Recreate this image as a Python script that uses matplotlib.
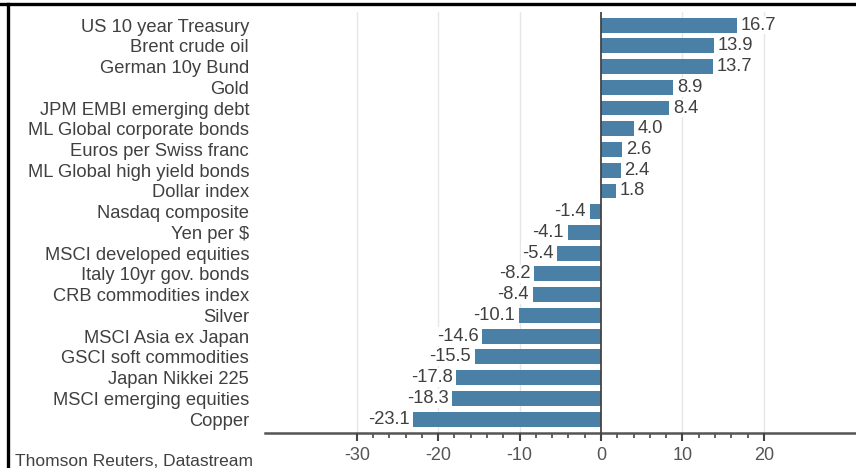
import matplotlib
matplotlib.use("Agg")
import matplotlib.pyplot as plt
import matplotlib.transforms as mtransforms
from matplotlib.lines import Line2D

categories = ["US 10 year Treasury", "Brent crude oil", "German 10y Bund", "Gold",
              "JPM EMBI emerging debt", "ML Global corporate bonds", "Euros per Swiss franc",
              "ML Global high yield bonds", "Dollar index", "Nasdaq composite", "Yen per $",
              "MSCI developed equities", "Italy 10yr gov. bonds", "CRB commodities index",
              "Silver", "MSCI Asia ex Japan", "GSCI soft commodities", "Japan Nikkei 225",
              "MSCI emerging equities", "Copper"]
values = [16.7, 13.9, 13.7, 8.9, 8.4, 4.0, 2.6, 2.4, 1.8, -1.4, -4.1, -5.4, -8.2, -8.4,
          -10.1, -14.6, -15.5, -17.8, -18.3, -23.1]
xticks = [-30, -20, -10, 0, 10, 20]
source = "Thomson Reuters, Datastream"

plt.rcParams['font.family'] = ['Liberation Sans', 'DejaVu Sans']
W, H = 856, 468
fig = plt.figure(figsize=(W / 100, H / 100), dpi=100)
fig.patch.set_facecolor('white')

left_px, right_px, top_px, bot_px = 265, 856, 12, 433
ax = fig.add_axes([left_px / W, 1 - bot_px / H, (right_px - left_px) / W, (bot_px - top_px) / H])

bar_color = '#4a7fa6'
text_color = '#404040'
ypos = list(range(len(categories)))
ax.barh(ypos, values, height=0.72, color=bar_color, zorder=3)

px_per_unit = 8.14
ax.set_xlim((left_px - 601) / px_per_unit, (right_px - 601) / px_per_unit)
ax.set_ylim(19.67, -0.63)

for y, v in zip(ypos, values):
    off = 0.45 if v >= 0 else -0.45
    ax.text(v + off, y, f"{v:.1f}", ha='left' if v >= 0 else 'right', va='center',
            fontsize=13.2, color=text_color, zorder=4,
            bbox=dict(boxstyle='square,pad=0.05', fc='white', ec='none'))

ax.set_yticks(ypos)
ax.set_yticklabels(categories, fontsize=13.2, color=text_color)
ax.tick_params(axis='y', length=0, pad=11.5)

ax.set_xticks(xticks)
ax.set_xticklabels([str(t) for t in xticks], fontsize=13, color='#555555')
ax.tick_params(axis='x', which='major', length=0, pad=10)

# tick marks below the axis line, drawn as short vertical segments
minor_ticks = [t for t in range(-30, 21, 2) if t % 10 != 0]
trans = mtransforms.blended_transform_factory(ax.transData, ax.transAxes)
axes_h_px = bot_px - top_px
ax.vlines(xticks, -8 / axes_h_px, 0, transform=trans, colors='#444444',
          linewidth=1.5, clip_on=False, zorder=6)
ax.vlines(minor_ticks, -5 / axes_h_px, 0, transform=trans, colors='#555555',
          linewidth=1.3, clip_on=False, zorder=6)

for t in xticks:
    if t != 0:
        ax.axvline(t, color='#e6e6e6', lw=1.0, zorder=1)
ax.axvline(0, color='#444444', lw=1.3, zorder=3.5)

for s in ['top', 'right', 'left']:
    ax.spines[s].set_visible(False)
ax.spines['bottom'].set_color('#555555')
ax.spines['bottom'].set_linewidth(1.8)
ax.set_facecolor('white')

fig.text(15 / W, 1 - 462 / H, source, fontsize=12.5, color=text_color, ha='left', va='center')

fig.add_artist(Line2D([0, 1], [1 - 3.5 / H, 1 - 3.5 / H], color='black', lw=2.4,
                      transform=fig.transFigure))
fig.add_artist(Line2D([8 / W, 8 / W], [0, 1 - 3.5 / H], color='black', lw=2.4,
                      transform=fig.transFigure))

fig.savefig('out.png', dpi=100, facecolor='white')
